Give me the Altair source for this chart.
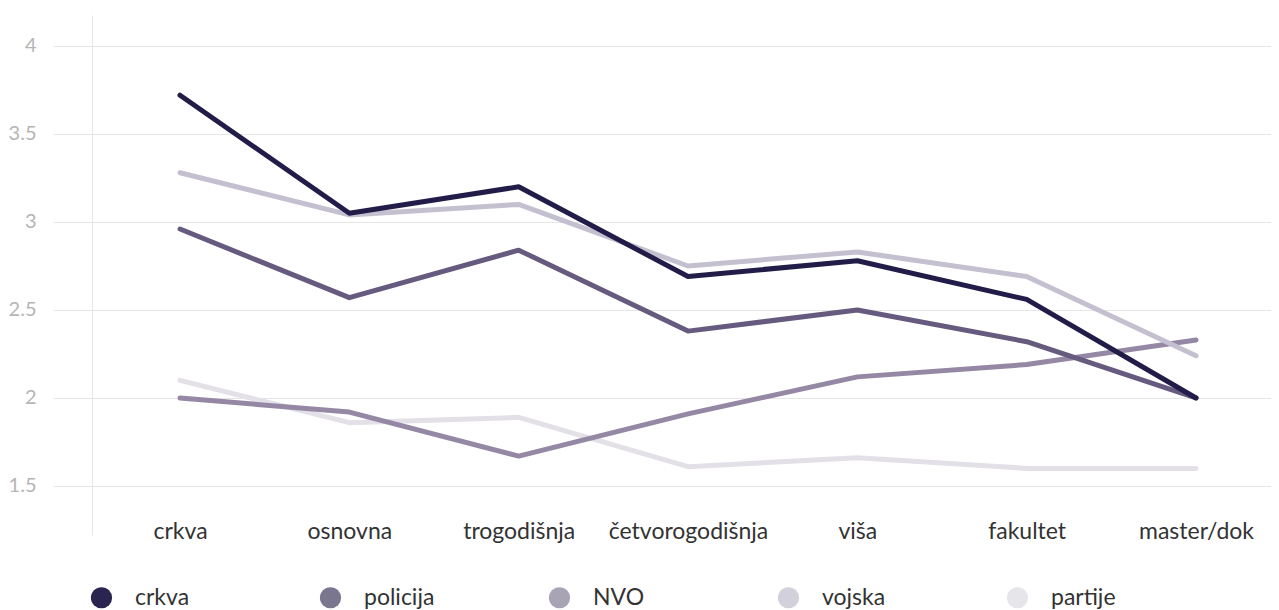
import altair as alt
import pandas as pd

categories = ["crkva", "osnovna", "trogodišnja", "četvorogodišnja", "viša", "fakultet", "master/dok"]
series = ["crkva", "policija", "NVO", "vojska", "partije"]

crkva = [3.72, 3.05, 3.20, 2.69, 2.78, 2.56, 2.00]
policija = [2.96, 2.57, 2.84, 2.38, 2.50, 2.32, 2.00]
nvo = [2.00, 1.92, 1.67, 1.91, 2.12, 2.19, 2.33]
vojska = [3.28, 3.04, 3.10, 2.75, 2.83, 2.69, 2.24]
partije = [2.10, 1.86, 1.89, 1.61, 1.66, 1.60, 1.60]

line_colors = ["#221c48", "#665a7e", "#9488a4", "#c5c0d0", "#e3e0e8"]
legend_colors = ["#2a2550", "#7b7690", "#a8a4b5", "#d2d0da", "#e6e5ea"]
y_ticks = [1.5, 2, 2.5, 3, 3.5, 4]

values = {"crkva": crkva, "policija": policija, "NVO": nvo, "vojska": vojska, "partije": partije}
draw_order = ["partije", "NVO", "vojska", "policija", "crkva"]

rows = []
for s in draw_order:
    for c, v in zip(categories, values[s]):
        rows.append({"serija": s, "kategorija": c, "vrijednost": v})
df = pd.DataFrame(rows)

FONT = "Lato"
GRID = "#e6e6e6"

x = alt.X(
    "kategorija:N",
    sort=categories,
    scale=alt.Scale(type="point", padding=0.4813, align=0.54),
    axis=alt.Axis(
        title=None, labelAngle=0, domain=False, ticks=False, tickSize=0, grid=False,
        labelPadding=3, labelBaseline="alphabetic", labelFontSize=23,
        labelColor="#333333", labelFont=FONT,
    ),
)
y = alt.Y(
    "vrijednost:Q",
    scale=alt.Scale(domain=[1.2216, 4.176], nice=False, zero=False),
    axis=alt.Axis(
        title=None, values=y_ticks, format="~g", grid=True, gridColor=GRID,
        tickColor=GRID, tickSize=39, domainColor=GRID, labelPadding=17,
        labelFontSize=20, labelColor="#b5b5b5", labelFont=FONT,
    ),
)

legend_layer = alt.Chart(df).mark_point(filled=True, size=10).encode(
    x=x,
    y=y,
    fill=alt.Fill(
        "serija:N",
        scale=alt.Scale(domain=series, range=legend_colors),
        legend=alt.Legend(
            title=None, orient="none", legendX=-2, legendY=571, direction="horizontal",
            columns=5, gridAlign="all", columnPadding=113, symbolType="circle",
            symbolSize=450, symbolOpacity=1, symbolStrokeWidth=0, labelFontSize=23,
            labelColor="#333333", labelFont=FONT, labelOffset=22, padding=0,
        ),
    ),
)

lines = alt.Chart(df).mark_line(strokeWidth=5, strokeCap="round", strokeJoin="round").encode(
    x=x,
    y=y,
    color=alt.Color("serija:N", scale=alt.Scale(domain=series, range=line_colors), legend=None),
    detail="serija:N",
)

chart = alt.layer(legend_layer, lines).properties(
    width=1179,
    height=520,
    background="white",
    autosize=alt.AutoSizeParams(type="none"),
    padding={"left": 84, "top": 7, "right": 0, "bottom": 75},
).configure_view(stroke=None)

chart.save("out.html", embed_options={"renderer": "svg", "actions": False})
